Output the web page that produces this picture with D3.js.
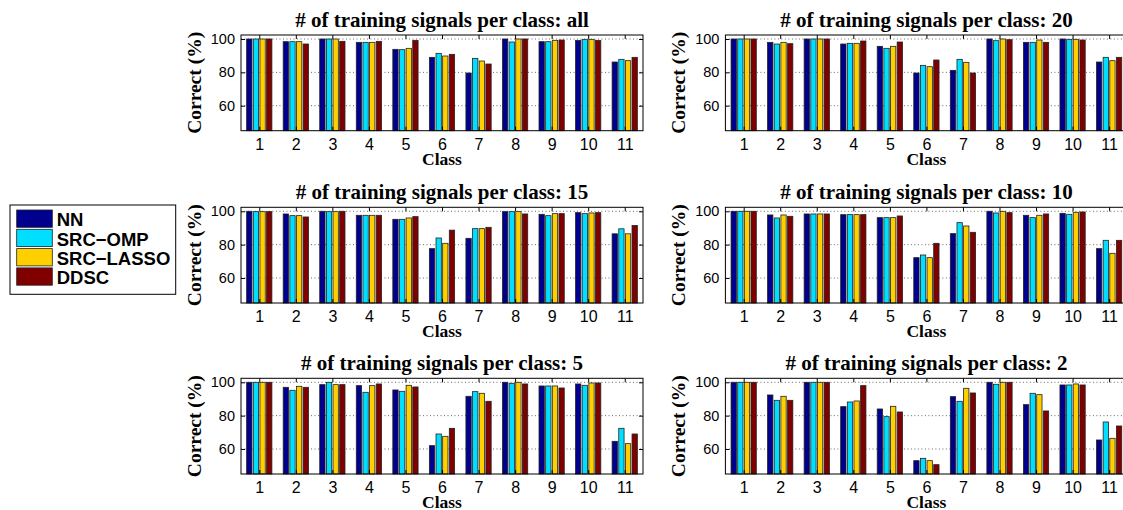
<!DOCTYPE html>
<html><head><meta charset="utf-8">
<script src="https://cdn.jsdelivr.net/npm/d3@7"></script>
<style>body{margin:0;background:#fff} svg{display:block}</style>
</head><body><svg id="c" width="1123" height="510"></svg>
<script>
const classes = [1,2,3,4,5,6,7,8,9,10,11];
const seriesNames = ["NN","SRC\u2212OMP","SRC\u2212LASSO","DDSC"];
const seriesColors = ["#00008F","#00DFFF","#FFCF00","#800000"];
const yTicks = [60,80,100];
const panelTitles = [
  "# of training signals per class: all",
  "# of training signals per class: 20",
  "# of training signals per class: 15",
  "# of training signals per class: 10",
  "# of training signals per class: 5",
  "# of training signals per class: 2"
];
// each: [NN, SRC-OMP, SRC-LASSO, DDSC] over classes 1..11
const valsAll = [
  [100, 98.4, 100, 98, 93.8, 89, 79.6, 100, 98.4, 99.2, 86.2],
  [100, 98.4, 100, 98, 93.6, 91.4, 88.4, 98.2, 98.4, 99.8, 87.8],
  [100, 98.4, 100, 98, 94.4, 89.8, 86.8, 100, 99.2, 99.8, 87],
  [100, 97, 98.6, 98.6, 99.2, 90.8, 85, 100, 99.4, 99.2, 89]
];
const vals20 = [
  [100, 98, 100, 97, 95.6, 79.6, 81.2, 100, 98, 100, 86.2],
  [100, 97, 100, 97.4, 94.4, 84.2, 87.8, 99, 98, 99.8, 89],
  [100, 98, 100, 97.4, 95.6, 83.4, 86, 100, 99.4, 99.8, 87],
  [100, 97.2, 100, 98.8, 98.2, 87.4, 79.6, 99.6, 98, 99.4, 89]
];
const vals15 = [
  [100, 98.4, 100, 97.6, 95.2, 77.6, 83.8, 99.8, 98.2, 99.2, 86.5],
  [99.8, 97.4, 99.8, 97.6, 95.2, 84, 89.6, 99.8, 97.4, 98.6, 89.5],
  [99.8, 97.4, 99.8, 97.6, 96, 80.8, 89.6, 99.8, 98.6, 99, 86.5],
  [99.8, 96.6, 100, 97.6, 96.8, 88.7, 90.4, 98.4, 98.6, 99.2, 91.5]
];
const vals10 = [
  [100, 97.8, 98.4, 98, 96.2, 72.2, 86.6, 100, 97.6, 98.8, 77.6],
  [100, 96, 98.4, 98, 96.2, 73.8, 93.2, 99, 96.2, 98.2, 82.6],
  [100, 97.8, 98.4, 98, 96.2, 72.2, 91.2, 100, 97.6, 99.4, 74.8],
  [100, 97, 98.4, 98, 97.2, 80.8, 87.4, 99.2, 98.4, 99.6, 82.6]
];
const vals5 = [
  [100, 97, 98.6, 98, 95.4, 62, 91.6, 100, 97.8, 99, 64.6],
  [100, 95.2, 100, 94, 94.6, 69, 94.4, 99.4, 97.8, 98.2, 72.4],
  [100, 97.6, 98.6, 98, 98.2, 67.6, 93.4, 100, 97.8, 99.6, 63.2],
  [100, 97, 98.6, 99, 97.2, 72.4, 88.6, 99, 96.6, 99.6, 69]
];
const vals2 = [
  [100, 92.4, 100, 85.4, 84, 53, 91.4, 100, 86.6, 98.4, 65.4],
  [100, 89.2, 100, 88.2, 79.4, 54.4, 88.6, 98.8, 93.4, 98.4, 76.2],
  [100, 91.6, 100, 88.8, 85.6, 53, 96.4, 100, 92.6, 99, 66.4],
  [100, 89.2, 100, 98, 82.2, 50.6, 93.6, 100, 82.8, 98.4, 73.8]
];
const panelValues = [valsAll, vals20, vals15, vals10, vals5, vals2];

const svg = d3.select("#c");
const colX = [241, 725.4];
const rowY = [35, 207.3, 378.3];
const axW = 402, axH = 95.7;
const sansF = "'Liberation Sans', Arial, Helvetica, sans-serif";
const serifF = "'Liberation Serif', 'Times New Roman', serif";

panelValues.forEach((vals, p) => {
  const r = Math.floor(p / 2), c = p % 2;
  const g = svg.append("g").attr("transform", `translate(${colX[c]},${rowY[r]})`);
  const x = d3.scaleLinear().domain([0.5, 11.5]).range([0, axW]);
  const y = d3.scaleLinear().domain([45, 102.4]).range([axH, 0]);

  // grid
  g.selectAll(".grid").data(yTicks).join("line")
    .attr("x1", 0).attr("x2", axW)
    .attr("y1", d => y(d)).attr("y2", d => y(d))
    .attr("stroke", "#444").attr("stroke-width", 0.8).attr("stroke-dasharray", "1,2.5");

  // bars
  const slot = 0.1818;
  const bw = x(slot * 0.8) - x(0);
  vals.forEach((series, s) => {
    g.append("g").selectAll("rect").data(series).join("rect")
      .attr("x", (d, i) => x(classes[i] + (s - 1.5) * slot) - bw / 2)
      .attr("y", d => y(d))
      .attr("width", bw)
      .attr("height", d => y(45) - y(d))
      .attr("fill", seriesColors[s])
      .attr("stroke", "#222").attr("stroke-width", 0.8);
  });

  // axes
  const ax = g.append("g").attr("transform", `translate(0,${axH})`)
    .call(d3.axisBottom(x).tickValues(classes).tickSize(-4).tickSizeOuter(0).tickPadding(8));
  const ay = g.append("g")
    .call(d3.axisLeft(y).tickValues(yTicks).tickSize(-4).tickSizeOuter(0).tickPadding(6));
  const at = g.append("g")
    .call(d3.axisTop(x).tickValues(classes).tickSize(-4).tickSizeOuter(0).tickFormat(""));
  const ar = g.append("g").attr("transform", `translate(${axW},0)`)
    .call(d3.axisRight(y).tickValues(yTicks).tickSize(-4).tickSizeOuter(0).tickFormat(""));
  [ax, ay, at, ar].forEach(a => {
    a.select(".domain").remove();
    a.selectAll("line").attr("stroke", "#000");
    a.selectAll("text").attr("font-family", sansF).attr("fill", "#000");
  });
  ax.selectAll("text").attr("font-size", 16);
  ay.selectAll("text").attr("font-size", 14.5);

  // box
  g.append("rect").attr("x", 0).attr("y", 0).attr("width", axW).attr("height", axH)
    .attr("fill", "none").attr("stroke", "#000").attr("stroke-width", 1);

  // title
  g.append("text").attr("x", axW / 2).attr("y", -8.3).attr("text-anchor", "middle")
    .attr("font-family", serifF).attr("font-weight", "bold").attr("font-size", 21)
    .text(panelTitles[p]);
  // x label
  g.append("text").attr("x", axW / 2).attr("y", axH + 34.3).attr("text-anchor", "middle")
    .attr("font-family", serifF).attr("font-weight", "bold").attr("font-size", 17.5)
    .text("Class");
  // y label
  g.append("text").attr("transform", `translate(-40,${axH / 2}) rotate(-90)`)
    .attr("text-anchor", "middle")
    .attr("font-family", serifF).attr("font-weight", "bold").attr("font-size", 19.5)
    .text("Correct (%)");
});

// legend
const leg = svg.append("g");
leg.append("rect").attr("x", 10).attr("y", 205).attr("width", 165.7).attr("height", 89.3)
  .attr("fill", "#fff").attr("stroke", "#000").attr("stroke-width", 1);
seriesNames.forEach((n, i) => {
  const yy = 210 + i * 19.3;
  leg.append("rect").attr("x", 16.7).attr("y", yy).attr("width", 35.6).attr("height", 17.3)
    .attr("fill", seriesColors[i]).attr("stroke", "#222").attr("stroke-width", 0.8);
  leg.append("text").attr("x", 56.7).attr("y", yy + 16.3)
    .attr("font-family", sansF).attr("font-weight", "bold").attr("font-size", 18.5)
    .text(n);
});
</script>
</body></html>
